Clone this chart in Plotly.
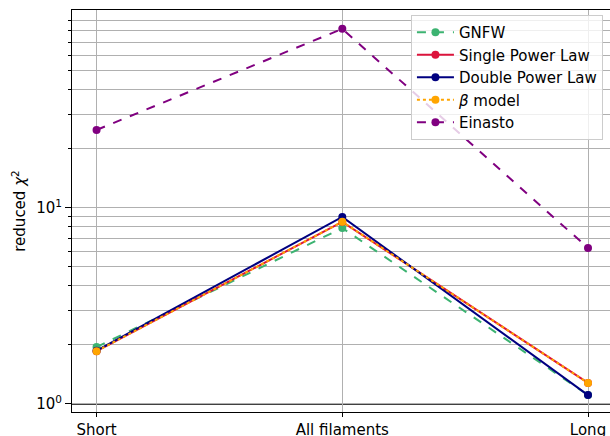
import plotly.graph_objects as go

categories = ["Short", "All filaments", "Long"]
gnfw = [1.95, 7.9, 1.11]
single_pl = [1.86, 8.5, 1.28]
double_pl = [1.87, 9.0, 1.11]
beta_model = [1.86, 8.5, 1.28]
einasto = [25.0, 82.0, 6.25]

series = [
    ("GNFW", gnfw, "#3CB371", "dash"),
    ("Single Power Law", single_pl, "#DC143C", "solid"),
    ("Double Power Law", double_pl, "#000080", "solid"),
    ("<i>β</i> model", beta_model, "#FFA500", "dot"),
    ("Einasto", einasto, "#800080", "dash"),
]

xpos = list(range(len(categories)))

fig = go.Figure()
for name, vals, color, dash in series:
    fig.add_trace(go.Scatter(
        x=xpos, y=vals, name=name, mode="lines+markers",
        line=dict(color=color, width=2, dash=dash),
        marker=dict(color=color, size=8),
    ))

fig.add_hline(y=1, line=dict(color="black", width=1.5), layer="below")

minor_vals = [2, 3, 4, 5, 6, 7, 8, 9, 20, 30, 40, 50, 60, 70, 80, 90]

fig.update_layout(
    width=610, height=436,
    margin=dict(l=72, r=0, t=10, b=24, autoexpand=False),
    paper_bgcolor="white", plot_bgcolor="white",
    font=dict(family="DejaVu Sans", size=15, color="black"),
    showlegend=True,
    legend=dict(
        x=0.630, y=0.9876, xanchor="left", yanchor="top",
        bgcolor="rgba(255,255,255,0.8)", bordercolor="#cccccc", borderwidth=1,
        font=dict(size=15), itemwidth=37, tracegroupgap=0,
    ),
    xaxis=dict(
        range=[-0.1, 2.0895], automargin=False,
        tickmode="array", tickvals=xpos, ticktext=categories,
        showgrid=True, gridcolor="#b0b0b0", gridwidth=1,
        showline=True, linecolor="black", linewidth=1, mirror=True,
        ticks="outside", ticklen=4, tickcolor="black",
        zeroline=False, tickfont=dict(size=15),
    ),
    yaxis=dict(
        type="log", range=[-0.041, 2.01], automargin=False,
        tickmode="array", tickvals=[1, 10], ticktext=["10<sup>0</sup>", "10<sup>1</sup>"],
        showgrid=True, gridcolor="#b0b0b0", gridwidth=1,
        showline=True, linecolor="black", linewidth=1,
        ticks="outside", ticklen=6, tickcolor="black",
        minor=dict(tickmode="array", tickvals=minor_vals, ticks="outside", ticklen=3,
                   tickcolor="black", showgrid=True, gridcolor="#b0b0b0", gridwidth=1),
        title=dict(text="reduced <i>χ</i><sup>2</sup>", standoff=6, font=dict(size=15)),
        zeroline=False, tickfont=dict(size=15),
    ),
)

fig.write_html("out.html")
